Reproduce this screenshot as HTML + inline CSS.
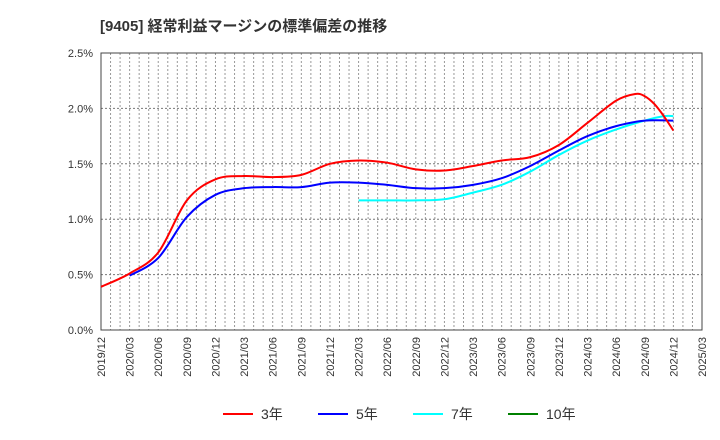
<!DOCTYPE html>
<html><head><meta charset="utf-8">
<style>
body{margin:0;background:#fff;}
svg{display:block;font-family:"Liberation Sans","Noto Sans CJK JP",sans-serif;}
</style></head>
<body>
<svg id="chart" width="720" height="440" viewBox="0 0 720 440">
<text x="100" y="31" font-size="15" font-weight="bold" fill="#333">[9405]  経常利益マージンの標準偏差の推移</text>
<g id="grid"></g>
<g id="axes"></g>
<g id="series"></g>
<g id="legend"></g>
</svg>
<script>
// month index from 2019/12
const xTickLabels=["2019/12","2020/03","2020/06","2020/09","2020/12","2021/03","2021/06","2021/09","2021/12","2022/03","2022/06","2022/09","2022/12","2023/03","2023/06","2023/09","2023/12","2024/03","2024/06","2024/09","2024/12","2025/03"];
const yTicks=[0,0.5,1.0,1.5,2.0,2.5];
const redMonths=[0,3,6,9,12,15,18,21,24,27,30,33,36,39,42,45,48,51,54,56,57,58,59,60];
const redValues=[0.39,0.51,0.70,1.17,1.36,1.39,1.38,1.40,1.50,1.53,1.51,1.45,1.44,1.48,1.53,1.56,1.67,1.87,2.07,2.13,2.11,2.04,1.93,1.80];
const blueMonths=[3,6,9,12,15,18,21,24,27,30,33,36,39,42,45,48,51,54,57,60];
const blueValues=[0.49,0.65,1.02,1.22,1.28,1.29,1.29,1.33,1.33,1.31,1.28,1.28,1.31,1.37,1.48,1.62,1.75,1.84,1.89,1.89];
const cyanMonths=[27,30,33,36,39,42,45,48,51,54,57,59,60];
const cyanValues=[1.17,1.17,1.17,1.18,1.24,1.31,1.43,1.58,1.71,1.81,1.89,1.93,1.93];

const L=101,R=702,T=53,B=330;
const NS="http://www.w3.org/2000/svg";
function xs(m){return L+(R-L)*m/63;}
function ys(v){return B-(B-T)*v/2.5;}
function mk(tag,attrs,parent){const e=document.createElementNS(NS,tag);for(const k in attrs)e.setAttribute(k,attrs[k]);parent.appendChild(e);return e;}
const grid=document.getElementById('grid'),axes=document.getElementById('axes'),ser=document.getElementById('series'),leg=document.getElementById('legend');
for(let m=1;m<63;m++){
  const l=mk('line',{x1:xs(m),x2:xs(m),y1:T,y2:B,stroke:'#999','stroke-width':1,'stroke-dasharray':'2,2'},grid);
  
  
}
yTicks.forEach(v=>{
  if(v>0&&v<2.5){const l=mk('line',{x1:L,x2:R,y1:ys(v),y2:ys(v),stroke:'#777','stroke-width':1,'stroke-dasharray':'2,2'},grid);
  
  }
  const t=mk('text',{x:L-8,y:ys(v)+4,'text-anchor':'end','font-size':11,fill:'#333'},axes);
  t.textContent=v.toFixed(1)+'%';
  
  
});
const fr=mk('rect',{x:L,y:T,width:R-L,height:B-T,fill:'none',stroke:'#444','stroke-width':1},axes);


xTickLabels.forEach((s,i)=>{
  const x=xs(i*3);
  const t=mk('text',{x:0,y:0,transform:`translate(${x+4},337) rotate(-90)`,'text-anchor':'end','font-size':11,fill:'#333'},axes);
  t.textContent=s;
  
  
});
function path(ms,vs){
  const p=ms.map((m,i)=>[xs(m),ys(vs[i])]);
  let d=`M${p[0][0]},${p[0][1]}`;
  for(let i=0;i<p.length-1;i++){
    const p0=p[Math.max(0,i-1)],p1=p[i],p2=p[i+1],p3=p[Math.min(p.length-1,i+2)];
    const c1=[p1[0]+(p2[0]-p0[0])/6,p1[1]+(p2[1]-p0[1])/6];
    const c2=[p2[0]-(p3[0]-p1[0])/6,p2[1]-(p3[1]-p1[1])/6];
    d+=`C${c1[0]},${c1[1]} ${c2[0]},${c2[1]} ${p2[0]},${p2[1]}`;
  }
  return d;
}
const s3=mk('path',{d:path(cyanMonths,cyanValues),fill:'none',stroke:'#00ffff','stroke-width':2},ser);


const s2=mk('path',{d:path(blueMonths,blueValues),fill:'none',stroke:'#0000ff','stroke-width':2},ser);


const s1=mk('path',{d:path(redMonths,redValues),fill:'none',stroke:'#ff0000','stroke-width':2},ser);


const legendItems=[["3年","#ff0000",223],["5年","#0000ff",318],["7年","#00ffff",413],["10年","#008000",508]];
legendItems.forEach(([lab,col,x])=>{
  const g=mk('g',{},leg);
  
  
  mk('line',{x1:x,x2:x+30,y1:414,y2:414,stroke:col,'stroke-width':2},g);
  const t=mk('text',{x:x+38,y:419,'font-size':14,fill:'#333'},g);
  t.textContent=lab;
});
</script>
</body></html>
